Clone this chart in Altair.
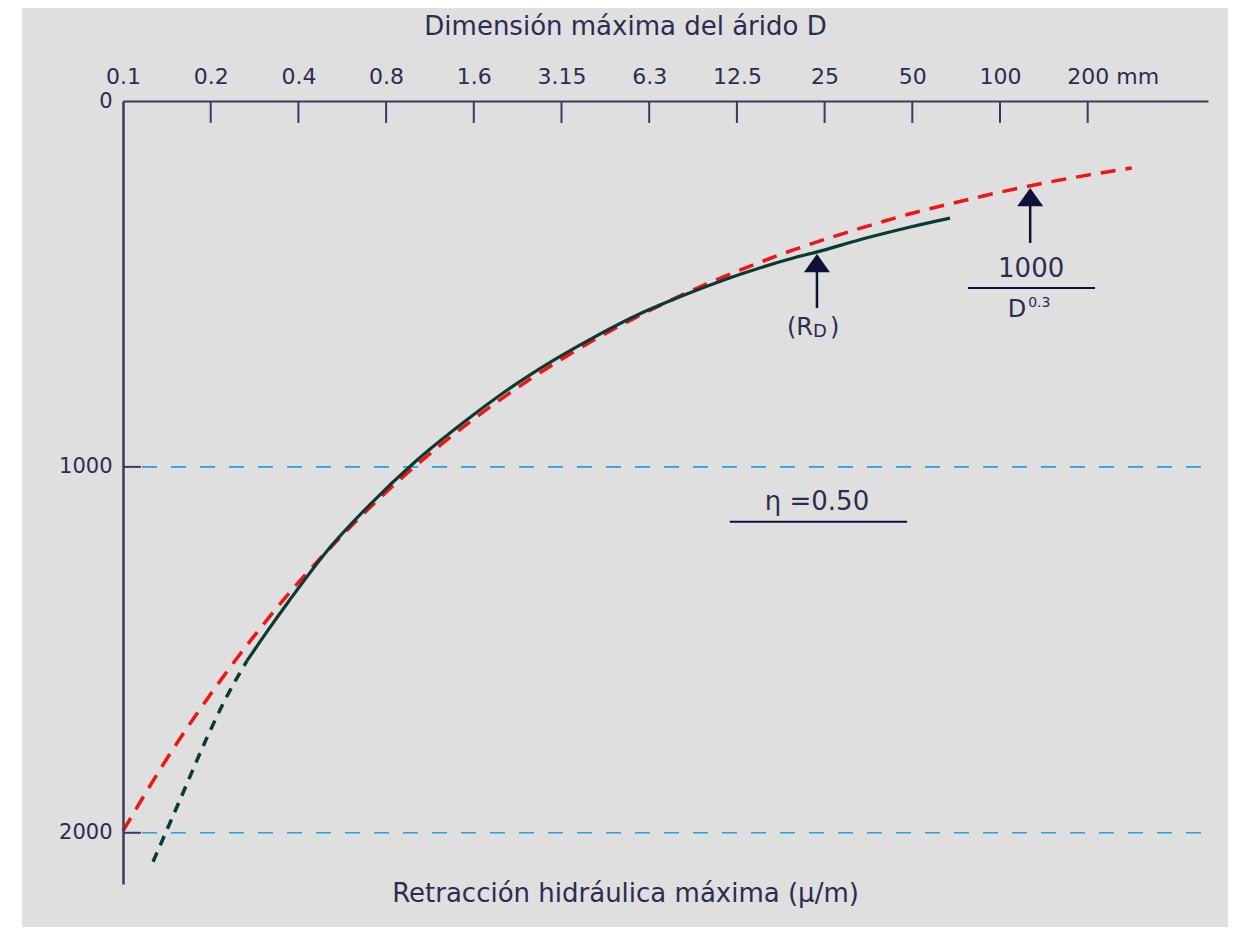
import altair as alt
import pandas as pd

# ---------------- data ----------------
tick_D = [0.1, 0.2, 0.4, 0.8, 1.6, 3.2, 6.4, 12.8, 25.6, 51.2, 102.4, 204.8]
tick_labels = ["0.1", "0.2", "0.4", "0.8", "1.6", "3.15", "6.3", "12.5", "25", "50", "100", "200 mm"]
y_ticks = [0, 1000, 2000]
ref_lines = [1000, 2000]

# red dashed curve 1000 / D^0.3
red_D = [0.1, 0.15, 0.2, 0.3, 0.4, 0.6, 0.8, 1.2, 1.6, 2.5, 3.15, 5, 6.3, 10, 12.5, 20, 25, 40, 50, 80, 100, 150, 200, 290]
red_R = [1995, 1766, 1621, 1435, 1316, 1166, 1069, 947, 869, 760, 709, 617, 576, 501, 469, 407, 381, 331, 309, 269, 251, 222, 204, 183]

# dark green curve (R_D): dashed start, then solid
green_dash_D = [0.1268, 0.1569, 0.1927, 0.2239, 0.2665]
green_dash_R = [2079, 1910, 1746, 1637, 1530]
green_solid_D = [0.2665, 0.32, 0.374, 0.5, 0.7, 1.0, 1.5, 2.0, 3.0, 4.0, 6.0, 8.0, 13.0, 20, 24, 35, 50, 69]
green_solid_R = [1530, 1438, 1363, 1231, 1105, 988, 874, 800, 709, 652, 580, 538, 475, 429, 413, 376, 345, 320]

# annotation anchors (D, R)
arrow_D = [24.1, 130]
arrow_tip_R = [418, 238]
arrow_end_R = [566, 388]

# ---------------- styles ----------------
FONT = "DejaVu Sans"
TXT = "#2c2c52"
AXC = "#3a3a5e"
NAVY = "#10103c"
RED = "#f21414"
GREEN = "#0b3a32"
BLUE = "#22a4dc"

label_expr = "[" + ",".join("'%s'" % t for t in tick_labels) + "][round(log(datum.value*10)/LN2)]"

xaxis = alt.Axis(
    orient="top", values=tick_D, labelExpr=label_expr, ticks=False, tickSize=0, grid=False,
    domainColor=AXC, domainWidth=2, labelFont=FONT, labelFontSize=22, labelColor=TXT,
    labelPadding=18, labelBaseline="alphabetic", labelAlign="center", labelFlush=False,
    labelOverlap=False, zindex=2,
    labelOffset={"condition": {"test": "datum.value > 150", "value": 25}, "value": 0},
    title="Dimensión máxima del árido D", titleFont=FONT, titleFontSize=26,
    titleFontWeight="normal", titleColor=TXT, titleX=502, titleY=-75,
    titleAlign="center", titleBaseline="middle",
)
yaxis = alt.Axis(
    orient="left", values=y_ticks, format="d", ticks=False, tickSize=0, grid=False,
    domainColor=AXC, domainWidth=2.5, labelFont=FONT, labelFontSize=21, labelColor=TXT,
    labelPadding=11, labelFlush=False, zindex=2,
    title="Retracción hidráulica máxima (μ/m)", titleFont=FONT, titleFontSize=26,
    titleFontWeight="normal", titleColor=TXT, titleAngle=0, titleX=502, titleY=792,
    titleAlign="center", titleBaseline="middle",
)
xs = alt.Scale(type="log", base=2, domain=[0.1, 530], nice=False)
ys = alt.Scale(domain=[0, 2140], reverse=True, nice=False, zero=True)

X = alt.X("D:Q", scale=xs, axis=xaxis)
Y = alt.Y("R:Q", scale=ys, axis=yaxis)

# ---------------- layers ----------------
bg = alt.Chart(pd.DataFrame({"k": [0]})).mark_rect(color="#dfdfdf").encode(
    x=alt.value(-101), x2=alt.value(1105), y=alt.value(-93), y2=alt.value(826)
)

ref_df = pd.DataFrame({"D": [0.1162] * len(ref_lines), "D2": [530] * len(ref_lines), "R": ref_lines})
ref = alt.Chart(ref_df).mark_rule(color=BLUE, strokeWidth=1.6, strokeDash=[15, 14]).encode(
    x=X, x2="D2:Q", y=Y
)

xt_df = pd.DataFrame({"D": tick_D[1:], "R": [0] * (len(tick_D) - 1), "R2": [60] * (len(tick_D) - 1)})
xticks = alt.Chart(xt_df).mark_rule(color=AXC, strokeWidth=2).encode(x=X, y=Y, y2="R2:Q")

yt_df = pd.DataFrame({"D": [0.1] * 2, "D2": [0.1153] * 2, "R": ref_lines})
yticks = alt.Chart(yt_df).mark_rule(color=AXC, strokeWidth=2).encode(x=X, x2="D2:Q", y=Y)

red = alt.Chart(pd.DataFrame({"D": red_D, "R": red_R})).mark_line(
    color=RED, strokeWidth=3.5, strokeDash=[15, 10], interpolate="monotone"
).encode(x=X, y=Y)

gdash = alt.Chart(pd.DataFrame({"D": green_dash_D, "R": green_dash_R})).mark_line(
    color=GREEN, strokeWidth=3.5, strokeDash=[10, 8], interpolate="monotone"
).encode(x=X, y=Y)

gsolid = alt.Chart(pd.DataFrame({"D": green_solid_D, "R": green_solid_R})).mark_line(
    color=GREEN, strokeWidth=3.2, interpolate="monotone"
).encode(x=X, y=Y)

arr_df = pd.DataFrame({"D": arrow_D, "R": [r + 12 for r in arrow_tip_R], "R2": arrow_end_R})
shafts = alt.Chart(arr_df).mark_rule(color=NAVY, strokeWidth=2.5).encode(x=X, y=Y, y2="R2:Q")

head_df = pd.DataFrame({"D": arrow_D, "R": arrow_tip_R})
heads = alt.Chart(head_df).mark_point(
    shape="M -1 1.4 L 0 0 L 1 1.4 Z", size=676, filled=True, color=NAVY, opacity=1, strokeWidth=0
).encode(x=X, y=Y)

def txt(df, size, align="center", dx=0, dy=0):
    return alt.Chart(df).mark_text(
        font=FONT, fontSize=size, color=TXT, align=align, baseline="alphabetic", dx=dx, dy=dy
    ).encode(x=X, y=Y, text="t:N")

t_rd1 = txt(pd.DataFrame({"D": [24.1], "R": [639], "t": ["(R"]}), 24, "right", -4)
t_rd2 = txt(pd.DataFrame({"D": [24.1], "R": [639], "t": ["D"]}), 18, "left", -4, 2)
t_rd3 = txt(pd.DataFrame({"D": [24.1], "R": [639], "t": [")"]}), 24, "left", 13)
t_num = txt(pd.DataFrame({"D": [131], "R": [481], "t": ["1000"]}), 26)
t_den1 = txt(pd.DataFrame({"D": [130], "R": [590], "t": ["D"]}), 24, "right", -4)
t_den2 = txt(pd.DataFrame({"D": [130], "R": [590], "t": ["0.3"]}), 14, "left", -2, -10)
t_eta = txt(pd.DataFrame({"D": [24.1], "R": [1117], "t": ["η =0.50"]}), 26)

bar_df = pd.DataFrame({"D": [79.5, 12.1], "D2": [217, 49.1], "R": [511, 1150]})
bars = alt.Chart(bar_df).mark_rule(color=NAVY, strokeWidth=2).encode(x=X, x2="D2:Q", y=Y)

chart = alt.layer(
    bg, ref, xticks, yticks, red, gdash, gsolid, shafts, heads, bars,
    t_rd1, t_rd2, t_rd3, t_num, t_den1, t_den2, t_eta
).properties(
    width=1085, height=783,
    padding={"left": 115, "top": 93, "right": 20, "bottom": 45},
    autosize=alt.AutoSizeParams(type="none"),
    background="white",
).configure_view(strokeWidth=0)

chart.save("out.html", embed_options={"renderer": "svg", "actions": False})
